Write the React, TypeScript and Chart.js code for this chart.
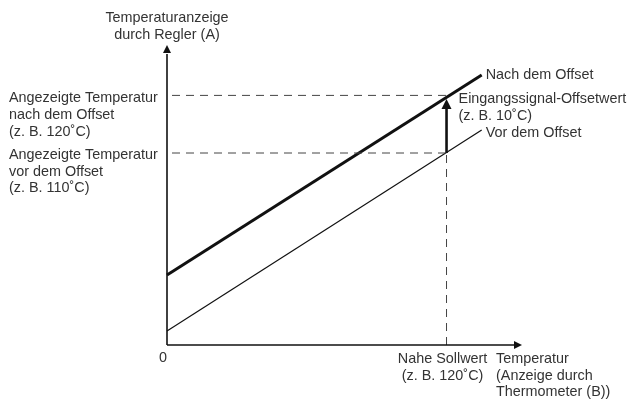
import React, { useEffect, useRef } from "react";
import { Chart, registerables } from "chart.js";

Chart.register(...registerables);

// Schematic data (abstract units)
const xAxisMax = 152.4; // end of the x-axis arrow
const yAxisMax = 100; // end of the y-axis arrow
const setpointX = 120; // "Nahe Sollwert"
const lineX = [0, 135.1];
const vorDemOffset = [4.7, 71.7];
const nachDemOffset = [23.3, 90];
const displayBefore = 64; // 110 °C
const displayAfter = 83.2; // 120 °C
const offsetArrowTop = 82;

const yAxisTitle = ["Temperaturanzeige", "durch Regler (A)"];
const labelAfter = ["Angezeigte Temperatur", "nach dem Offset", "(z. B. 120˚C)"];
const labelBefore = ["Angezeigte Temperatur", "vor dem Offset", "(z. B. 110˚C)"];
const labelNach = "Nach dem Offset";
const labelVor = "Vor dem Offset";
const labelOffset = ["Eingangssignal-Offsetwert", "(z. B. 10˚C)"];
const labelZero = "0";
const labelSetpoint = ["Nahe Sollwert", "(z. B. 120˚C)"];
const xAxisTitle = ["Temperatur", "(Anzeige durch", "Thermometer (B))"];

const FONT = "14.4px 'Liberation Sans', Arial, Helvetica, sans-serif";
const TEXT = "#333333";
const LH = 16.7;

const annotationPlugin = {
  id: "diagramAnnotations",
  afterDatasetsDraw(chart: any) {
    const ctx = chart.ctx as CanvasRenderingContext2D;
    const xs = chart.scales.x;
    const ys = chart.scales.y;
    const px = (v: number) => xs.getPixelForValue(v);
    const py = (v: number) => ys.getPixelForValue(v);

    const head = (x: number, y: number, dir: "up" | "right", len: number, w: number) => {
      ctx.beginPath();
      if (dir === "up") {
        ctx.moveTo(x, y);
        ctx.lineTo(x - w / 2, y + len);
        ctx.lineTo(x + w / 2, y + len);
      } else {
        ctx.moveTo(x, y);
        ctx.lineTo(x - len, y - w / 2);
        ctx.lineTo(x - len, y + w / 2);
      }
      ctx.closePath();
      ctx.fillStyle = "#111";
      ctx.fill();
    };

    ctx.save();
    head(px(0), py(yAxisMax), "up", 8, 8);
    head(px(xAxisMax), py(0), "right", 8, 8);
    head(px(setpointX), py(offsetArrowTop), "up", 10, 10);

    ctx.font = FONT;
    ctx.fillStyle = TEXT;
    ctx.textBaseline = "middle";

    const lines = (arr: string[], x: number, y: number, align: CanvasTextAlign) => {
      ctx.textAlign = align;
      arr.forEach((t, i) => ctx.fillText(t, x, y + i * LH));
    };

    lines(yAxisTitle, px(0), 18, "center");
    lines(labelAfter, 9, py(displayAfter) + 3, "left");
    lines(labelBefore, 9, py(displayBefore) + 2, "left");
    lines([labelNach], px(lineX[1]) + 4, py(nachDemOffset[1]) + 0.5, "left");
    lines([labelVor], px(lineX[1]) + 4, py(vorDemOffset[1]) + 3, "left");
    lines(labelOffset, px(setpointX) + 12, py(displayAfter) + 3.5, "left");
    lines([labelZero], px(0) - 4, py(0) + 13.5, "center");
    lines(labelSetpoint, px(setpointX) - 4, py(0) + 14, "center");
    lines(xAxisTitle, px(xAxisMax) - 26, py(0) + 14, "left");
    ctx.restore();
  },
};

const seg = (xa: number, ya: number, xb: number, yb: number) => [
  { x: xa, y: ya },
  { x: xb, y: yb },
];

export default function App() {
  const ref = useRef<HTMLCanvasElement | null>(null);

  useEffect(() => {
    if (!ref.current) return;
    const base = { pointRadius: 0, fill: false, tension: 0, clip: false as any };
    const dash = { borderColor: "#444", borderWidth: 1, borderDash: [8, 6] };
    const chart = new Chart(ref.current, {
      type: "line",
      data: {
        datasets: [
          { ...base, label: "y-axis", data: seg(0, 0, 0, yAxisMax - 3), borderColor: "#111", borderWidth: 1.6 },
          { ...base, label: "x-axis", data: seg(0, 0, xAxisMax - 3, 0), borderColor: "#111", borderWidth: 1.6 },
          { ...base, ...dash, label: "dash after", data: seg(0, displayAfter, setpointX, displayAfter), borderDashOffset: 9 },
          { ...base, ...dash, label: "dash before", data: seg(0, displayBefore, setpointX, displayBefore), borderDashOffset: 9 },
          { ...base, ...dash, label: "dash setpoint", data: seg(setpointX, 0, setpointX, displayBefore), borderDashOffset: 0 },
          {
            ...base,
            label: labelVor,
            data: lineX.map((x, i) => ({ x, y: vorDemOffset[i] })),
            borderColor: "#111",
            borderWidth: 1.2,
          },
          {
            ...base,
            label: labelNach,
            data: lineX.map((x, i) => ({ x, y: nachDemOffset[i] })),
            borderColor: "#111",
            borderWidth: 3,
          },
          {
            ...base,
            label: "offset arrow",
            data: seg(setpointX, displayBefore, setpointX, offsetArrowTop - 2),
            borderColor: "#111",
            borderWidth: 2.6,
          },
        ],
      },
      options: {
        responsive: false,
        animation: false,
        events: [],
        layout: { padding: { left: 167, right: 106, top: 45, bottom: 58 } },
        plugins: { legend: { display: false }, tooltip: { enabled: false } },
        scales: {
          x: { type: "linear", min: 0, max: xAxisMax, display: false },
          y: { type: "linear", min: 0, max: yAxisMax, display: false },
        },
      },
      plugins: [annotationPlugin],
    });
    return () => chart.destroy();
  }, []);

  return (
    <div style={{ position: "fixed", left: 0, top: 0, width: 628, height: 403, background: "#fff" }}>
      <canvas ref={ref} width={628} height={403} style={{ width: 628, height: 403 }} />
    </div>
  );
}
